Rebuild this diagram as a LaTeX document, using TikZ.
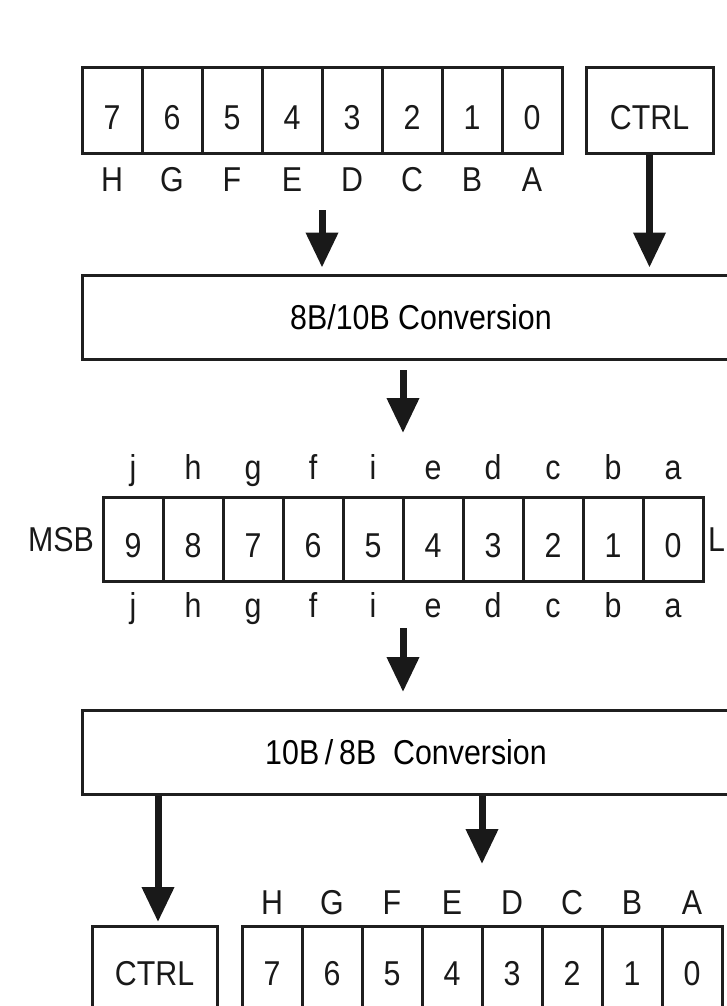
\documentclass[tikz,border=0pt]{standalone}
\usepackage{fontspec}
\setmainfont[FakeStretch=0.88]{Liberation Sans}
\usetikzlibrary{arrows.meta}
\newcommand\bigf{\fontsize{34.5}{40}\selectfont}
\begin{document}
\begin{tikzpicture}[x=1pt,y=-1pt,
  box/.style={draw=black!88, line width=3pt, inner sep=0pt},
  cell/.style={box, minimum width=60pt, minimum height=85pt},
  lbl/.style={inner sep=0pt, anchor=base, font=\bigf, text=black!90},
  arr/.style={draw=black!90, line width=7pt, -{Triangle[width=31pt,length=35pt]}},
]
\useasboundingbox (0,0) rectangle (727,1006);
\clip (0,0) rectangle (727,1006);

% top byte
\foreach \bit/\ltr [count=\k from 0] in {7/H,6/G,5/F,4/E,3/D,2/C,1/B,0/A}{
  \node[cell] (t\bit) at ({112+60*\k},110.5) {};
  \node[lbl] (td\bit) at ({112+60*\k},129) {\bit};
  \node[lbl] (tl\bit) at ({112+60*\k},191) {\ltr};
}
\node[box, minimum width=127pt, minimum height=85pt] (ctrl1) at (649.5,110.5) {};
\node[lbl] (ctrl1t) at (649.5,129) {CTRL};

% 8B/10B box
\node[box, minimum width=678pt, minimum height=84pt, font=\bigf] (conv1) at (421,317) {8B/10B Conversion};

\coordinate (a1s) at (322,210);
\draw[arr, shorten >=6pt] (a1s) -- (a1s |- conv1.north);
\draw[arr, shorten >=6pt] (ctrl1.south) -- (ctrl1.south |- conv1.north);

\coordinate (a3s) at (403,370);
\coordinate (a3e) at (403,433);
\draw[arr] (a3s) -- (a3e);

% 10-bit word
\foreach \bit/\ltr [count=\k from 0] in {9/j,8/h,7/g,6/f,5/i,4/e,3/d,2/c,1/b,0/a}{
  \node[cell, minimum height=84pt] (m\bit) at ({133+60*\k},539) {};
  \node[lbl] (md\bit) at ({133+60*\k},557) {\bit};
  \node[lbl] (mu\bit) at ({133+60*\k},479) {\ltr};
  \node[lbl] (ml\bit) at ({133+60*\k},617) {\ltr};
}
\node[lbl, anchor=base east] (msb) at (94,551) {MSB};
\node[lbl, anchor=base west] (lsb) at (708,551) {L};

\coordinate (a4s) at (403,628);
\coordinate (a4e) at (403,692);
\draw[arr] (a4s) -- (a4e);

% 10B/8B box
\node[box, minimum width=648pt, minimum height=84pt, font=\bigf] (conv2) at (406,752) {10B\,/\,8B\ \ Conversion};

% bottom
\node[box, minimum width=125pt, minimum height=85pt] (ctrl2) at (154.5,968.5) {};
\node[lbl] (ctrl2t) at (154.5,985) {CTRL};
\foreach \bit/\ltr [count=\k from 0] in {7/H,6/G,5/F,4/E,3/D,2/C,1/B,0/A}{
  \node[cell] (b\bit) at ({272+60*\k},968.5) {};
  \node[lbl] (bd\bit) at ({272+60*\k},985) {\bit};
  \node[lbl] (bl\bit) at ({272+60*\k},914) {\ltr};
}

\coordinate (a5e) at (158,922);
\draw[arr] (conv2.south -| a5e) -- (a5e);
\coordinate (a6e) at (482,864);
\draw[arr] (conv2.south -| a6e) -- (a6e);
\end{tikzpicture}
\end{document}
